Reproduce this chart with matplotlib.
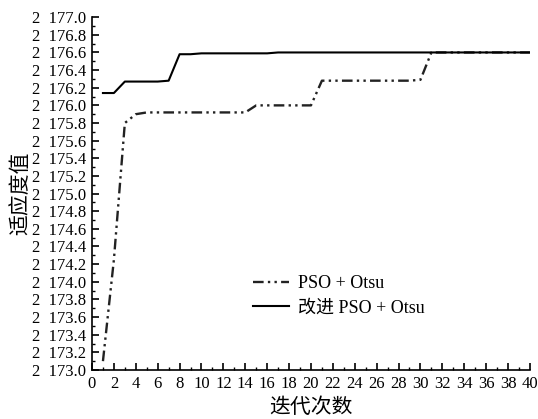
import matplotlib
matplotlib.use('Agg')
import matplotlib.pyplot as plt
from matplotlib.ticker import MultipleLocator, FuncFormatter

plt.rcParams['font.family'] = ['Liberation Serif', 'Noto Sans CJK SC']

# Iterations
iters = list(range(1, 41))

# PSO + Otsu fitness values
pso = [2173.1, 2174.25, 2175.8, 2175.9] + [2175.92] * 10 + [2176.0] * 6 \
    + [2176.28] * 9 + [2176.29] + [2176.6] * 10

# Improved PSO + Otsu fitness values
improved = [2176.14, 2176.14, 2176.27, 2176.27, 2176.27, 2176.27, 2176.28,
            2176.58, 2176.58] + [2176.59] * 7 + [2176.6] * 24

labels = ['PSO + Otsu', '改进 PSO + Otsu']

fig = plt.figure(figsize=(5.38, 4.19), dpi=100)
ax = fig.add_axes([0.171, 0.117, 0.814, 0.842])

ax.plot(iters, pso, color='#222222', lw=1.7,
        dashes=(4.5, 1.8, 1.0, 1.8, 1.0, 1.8), label=labels[0])
ax.plot(iters, improved, color='black', lw=1.5, label=labels[1])

ax.set_xlim(0, 40)
ax.set_ylim(2173.0, 2177.0)

ax.xaxis.set_major_locator(MultipleLocator(2))
ax.xaxis.set_minor_locator(MultipleLocator(1))
ax.yaxis.set_major_locator(MultipleLocator(0.2))
ax.yaxis.set_minor_locator(MultipleLocator(0.1))

def fmt(v, pos):
    s = f'{v:.1f}'
    return s[0] + '  ' + s[1:]

ax.yaxis.set_major_formatter(FuncFormatter(fmt))

for side in ['top', 'right']:
    ax.spines[side].set_visible(False)
for side in ['left', 'bottom']:
    ax.spines[side].set_linewidth(1.2)

ax.tick_params(which='major', direction='in', length=5, width=1.2,
               labelsize=12, pad=4)
ax.tick_params(which='minor', direction='in', length=2.5, width=1.0)

ax.set_xlabel('迭代次数', fontsize=15, labelpad=5)
ax.set_ylabel('适应度值', fontsize=15, labelpad=1)

ax.legend(loc='upper left', bbox_to_anchor=(0.33, 0.315), frameon=False,
          fontsize=13, handlelength=2.0, labelspacing=0.4, handletextpad=0.5)

fig.savefig('out.png', dpi=100)
